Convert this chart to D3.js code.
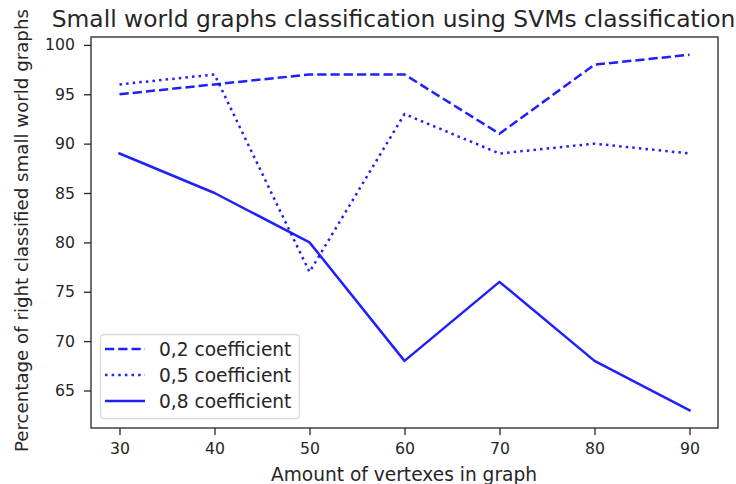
<!DOCTYPE html>
<html>
<head>
<meta charset="utf-8">
<script src="https://cdn.jsdelivr.net/npm/d3@7"></script>
<style>
  html, body { margin: 0; padding: 0; background: #fff; }
  svg text { font-family: "DejaVu Sans", sans-serif; fill: #262626; }
</style>
</head>
<body>
<svg id="chart" width="736" height="484"></svg>
<script>
// Number of vertices in each generated graph
const vertexCounts = [30, 40, 50, 60, 70, 80, 90];

// Percentage of correctly classified small world graphs, per rewiring coefficient
const coef02 = [95, 96, 97, 97, 91, 98, 99];
const coef05 = [96, 97, 77, 93, 89, 90, 89];
const coef08 = [89, 85, 80, 68, 76, 68, 63];

const seriesNames = ["0,2 coefficient", "0,5 coefficient", "0,8 coefficient"];
const xTicks = [30, 40, 50, 60, 70, 80, 90];
const yTicks = [65, 70, 75, 80, 85, 90, 95, 100];

const titleText = "Small world graphs classification using SVMs classification";
const xLabelText = "Amount of vertexes in graph";
const yLabelText = "Percentage of right classified small world graphs";

const svg = d3.select("#chart");
const plot = { left: 91, right: 718, top: 37, bottom: 428 };

const x = d3.scaleLinear().domain([27, 93]).range([plot.left, plot.right]);
const y = d3.scaleLinear().domain([61.2, 100.8]).range([plot.bottom, plot.top]);

const lineColor = "#0000ff";
const lineOpacity = 0.88;
const lw = 2.5;
const dashes = [`${3.7 * lw},${1.6 * lw}`, `${1 * lw},${1.65 * lw}`, null];

const series = [coef02, coef05, coef08];

// Data lines
const line = d3.line().x((d, i) => x(vertexCounts[i])).y(d => y(d));
series.forEach((vals, k) => {
  svg.append("path")
    .datum(vals)
    .attr("d", line)
    .attr("fill", "none")
    .attr("stroke", lineColor)
    .attr("stroke-opacity", lineOpacity)
    .attr("stroke-width", lw)
    .attr("stroke-linecap", dashes[k] ? "butt" : "square")
    .attr("stroke-linejoin", "round")
    .attr("stroke-dasharray", dashes[k]);
});

// Axes
const fontTick = 15.7;
const xAxis = d3.axisBottom(x).tickValues(xTicks).tickSize(7).tickPadding(8);
const yAxis = d3.axisLeft(y).tickValues(yTicks).tickSize(7).tickPadding(9);

const gx = svg.append("g").attr("transform", `translate(0,${plot.bottom})`).call(xAxis);
const gy = svg.append("g").attr("transform", `translate(${plot.left},0)`).call(yAxis);
[gx, gy].forEach(g => {
  g.select(".domain").remove();
  g.selectAll(".tick line").attr("stroke", "#262626").attr("stroke-width", 1.3);
  g.selectAll(".tick text")
    .attr("font-family", "DejaVu Sans")
    .attr("font-size", fontTick)
    .attr("fill", "#262626");
});

// Frame around the plotting area
svg.append("rect")
  .attr("x", plot.left).attr("y", plot.top)
  .attr("width", plot.right - plot.left).attr("height", plot.bottom - plot.top)
  .attr("fill", "none").attr("stroke", "#262626").attr("stroke-width", 1.3);

// Title and axis labels
svg.append("text")
  .attr("x", 393.5).attr("y", 27)
  .attr("text-anchor", "middle")
  .attr("font-size", 23.4)
  .text(titleText);

svg.append("text")
  .attr("x", 404).attr("y", 481)
  .attr("text-anchor", "middle")
  .attr("font-size", 18.6)
  .text(xLabelText);

svg.append("text")
  .attr("transform", "translate(28,452) rotate(-90)")
  .attr("text-anchor", "start")
  .attr("font-size", 18.2)
  .text(yLabelText);

// Legend
const legend = svg.append("g");
legend.append("rect")
  .attr("x", 100.5).attr("y", 334.5)
  .attr("width", 199).attr("height", 84)
  .attr("rx", 3.5)
  .attr("fill", "#fff").attr("fill-opacity", 0.8)
  .attr("stroke", "#d9d9d9").attr("stroke-width", 1.3);

const rowY = d3.scaleLinear().domain([0, 2]).range([349, 401]);
seriesNames.forEach((name, k) => {
  const yy = rowY(k);
  legend.append("line")
    .attr("x1", 105).attr("x2", 145)
    .attr("y1", yy).attr("y2", yy)
    .attr("stroke", lineColor)
    .attr("stroke-opacity", lineOpacity)
    .attr("stroke-width", lw)
    .attr("stroke-dasharray", dashes[k]);
  legend.append("text")
    .attr("x", 159).attr("y", yy + 6.5)
    .attr("font-size", 18.6)
    .text(name);
});
</script>
</body>
</html>
